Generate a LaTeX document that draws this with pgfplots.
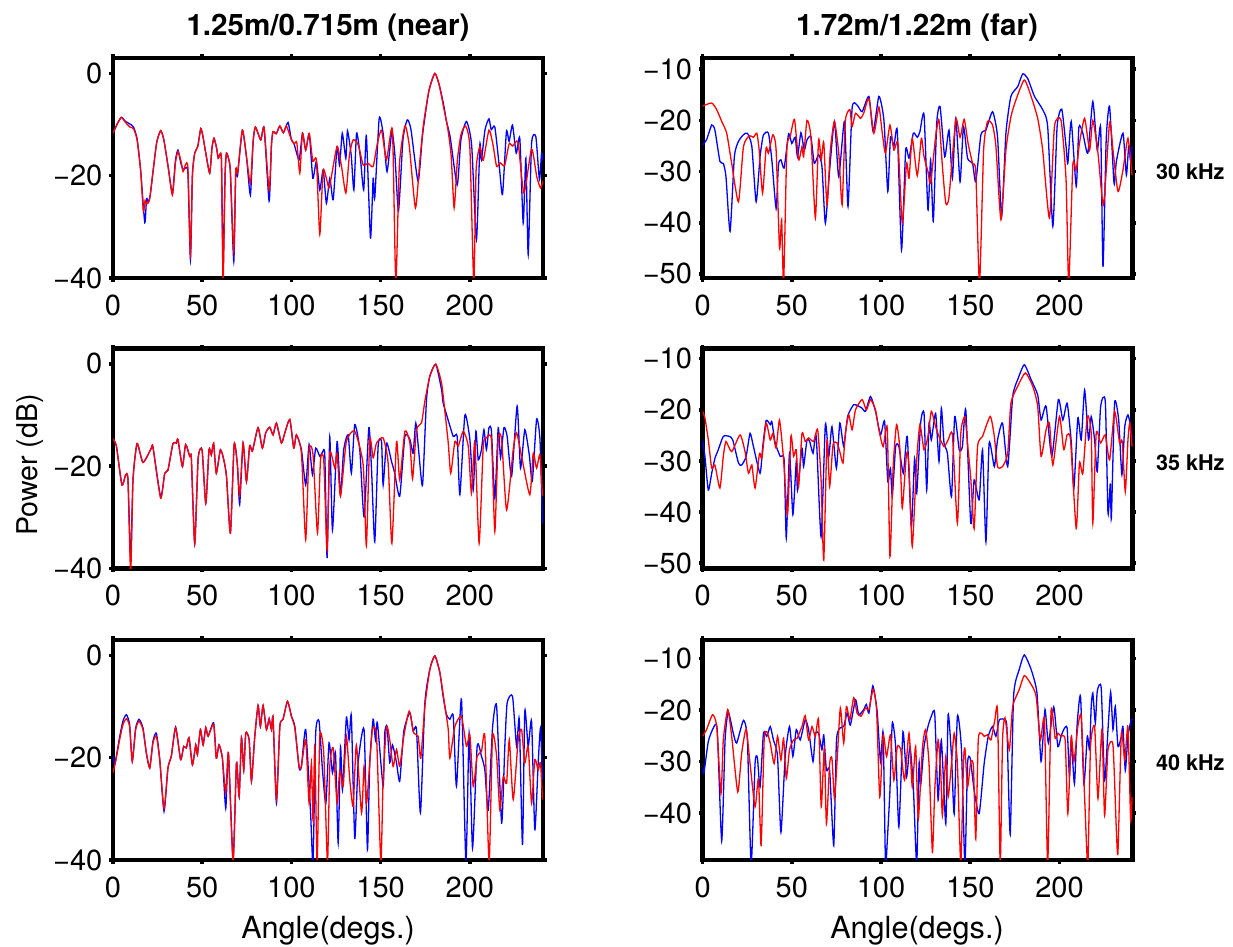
\documentclass[border=0pt]{standalone}
\usepackage{pgfplots}
\pgfplotsset{compat=1.18}
\usepackage{fontspec}
\setmainfont{TeX Gyre Heros}

\definecolor{bl}{RGB}{0,0,255}
\definecolor{rd}{RGB}{255,0,0}

\pgfplotsset{
  panel/.style={
    scale only axis, width=215pt, height=110pt,
    xmin=0, xmax=241, xtick={0,50,100,150,200},
    tick align=outside, major tick length=1.8pt,
    every tick/.style={black, line width=1.8pt},
    axis line style={line width=2.35pt},
    tick label style={font=\fontsize{14.5}{16}\selectfont},
    /pgf/number format/assume math mode=true,
    xticklabel style={yshift=-3pt},
    clip=true,
  },
  near/.style={panel, ymin=-40, ymax=3, ytick={-40,-20,0},
    yticklabels={−40,−20,0}},
  far/.style={panel, ytick={-50,-40,-30,-20,-10},
    yticklabels={−50,−40,−30,−20,−10}},
  bcurve/.style={bl, line width=0.65pt, smooth, tension=0.35},
  rcurve/.style={rd, line width=0.65pt, smooth, tension=0.35},
}

\begin{document}
\begin{tikzpicture}
\useasboundingbox (0,0) rectangle (616.5pt,473.5pt);

% ---------------- 30 kHz, near ----------------
\begin{axis}[near, at={(56.5pt,334.5pt)}, anchor=south west]
\addplot[bcurve] coordinates {
(0,-11.7)(2.5,-9.8)(4.7,-8.6)(7,-9.4)(9.5,-9.9)(11.5,-10.5)(13.5,-12.8)(15.5,-19)
(17.8,-29.2)(18.8,-24.5)(19.8,-25.2)(20.8,-24)(22.5,-19)(24.5,-13.5)(26.7,-11.2)
(28.5,-13)(31,-18.5)(33.3,-23.5)(35,-17)(36.4,-15)(38,-17.5)(39.3,-18.8)(40.7,-18.5)
(42,-19.5)(43.4,-36.5)(44.5,-20)(45.8,-15.6)(47.5,-14.3)(49.2,-10.8)(50.5,-12.5)
(52,-15.6)(54.2,-19.5)(55.5,-14.5)(56.6,-12.7)(58,-14.5)(59,-16.6)(60,-15.8)(60.8,-17.2)
(61.7,-38)(62.8,-20)(63.6,-15.6)(65,-17)(65.8,-19.5)(67.7,-36.8)(68.8,-19)(69.8,-20)
(72.5,-11.1)(74.8,-16.3)(77,-23.8)(78.5,-13.5)(79.8,-10.5)(82.8,-13)(84.7,-10.7)
(87.5,-25)(88.8,-14)(89.7,-11.4)(91.5,-11.8)(93.5,-10.3)(95.5,-11.6)(98.1,-9.6)
(100,-13)(101.5,-13.8)(104.3,-16.9)(106.2,-11.7)(108,-15)(110,-11.8)(112,-20.5)
(114,-17.2)(115.9,-22.8)(117.8,-18.9)(119.6,-25.4)(121.5,-20.5)(123.4,-24.7)
(125.6,-14.3)(127,-18)(128.5,-11.7)(130.5,-16.6)(131.4,-11.2)(133.5,-16)(135,-22.8)
(136.5,-11.7)(138.5,-16)(140.5,-22.8)(142,-12.2)(144.3,-32.2)(145.8,-20.5)(146.7,-24.4)
(149.2,-8.8)(151.5,-12)(153.6,-19.2)(156.3,-11.4)(158,-16)(160,-26.9)(162.5,-13)
(164.9,-9.1)(167,-11)(171,-21.1)(173.5,-12)(177,-3.5)(180.4,0)(183,-2.5)(185.5,-6.5)
(186.9,-9.4)(189,-12.5)(192.9,-21.8)(195,-13)(198.1,-9.4)(201,-14)(203.7,-32.5)
(205.6,-14)(206.5,-16.9)(208.5,-11)(210.7,-8.9)(212,-11)(214,-10.5)(216.5,-18.2)
(218.3,-23.7)(220.5,-11.4)(222,-13.3)(223.9,-10.1)(226,-15.6)(228,-12.7)(229.9,-29.3)
(231.4,-16.6)(232.7,-35.4)(234.6,-13.7)(237,-12.4)(239,-20.8)(240.2,-15.6)(241,-17)
};
\addplot[rcurve] coordinates {
(0,-11.7)(2.5,-9.8)(4.7,-8.6)(7,-9.6)(9.5,-10.5)(11.5,-10.8)(13.5,-13)(15.5,-19)
(17,-27)(18,-24.8)(19,-25.5)(20.5,-24.6)(22.5,-19)(24.5,-13.5)(26.7,-11.2)(28.5,-13)
(31,-18.5)(33.3,-23.8)(35,-17.5)(36.4,-15.3)(38,-17)(39.3,-19.2)(40.7,-17.8)(42,-18.5)
(43.4,-35.5)(44.5,-20)(45.8,-15.6)(47.5,-14.3)(49.2,-10.8)(50.5,-12.5)(52,-15.6)
(54.2,-19.5)(55.5,-14.5)(56.6,-12.7)(58,-14.5)(59,-16.6)(60,-15.8)(60.8,-17.2)
(61.7,-41)(62.8,-20)(63.6,-15.6)(65,-17)(65.8,-19.2)(67.7,-35)(68.8,-19)(69.8,-19.5)
(72.5,-11.1)(74.8,-16.3)(77,-21.5)(78.5,-13.5)(79.8,-10.5)(82.8,-13)(84.7,-10.7)
(87.5,-22.8)(88.8,-14)(89.7,-11.4)(91.5,-11.8)(93.5,-10.3)(95.5,-11.6)(97.2,-10.3)
(99.5,-12.5)(101.5,-13.8)(103,-13.5)(104.7,-19.5)(106.2,-11.7)(108,-15)(110,-11.8)
(112,-17.2)(114,-17)(115.9,-31.5)(117.8,-18.9)(121,-22.4)(122.5,-20)(125.6,-14.3)
(128,-18)(130.5,-23.4)(132.5,-16)(134.6,-13)(137.5,-14)(140.2,-17.9)(143,-17.6)
(145.8,-18.2)(148,-14)(150.5,-11.1)(153.3,-16.9)(156.6,-11.1)(158.5,-41)(160.5,-18)
(163.6,-10.3)(166,-14)(169.5,-26.3)(172,-17)(174,-10)(177,-3.5)(180.4,0)(183,-2.5)
(185.5,-7)(187.5,-10.5)(189.5,-16)(191.2,-26.3)(193,-17)(195,-12)(197.6,-10.3)
(200,-14.5)(202.2,-41)(203.5,-19)(205.6,-14.3)(207.5,-17)(210.7,-11.1)(213,-14)
(215,-18.2)(217,-17.5)(219.5,-18)(222,-13.8)(224,-14.2)(227,-13.5)(230.3,-23.4)
(234.6,-14.8)(237.5,-20.2)(239.6,-22.4)(241,-21)
};
\end{axis}

% ---------------- 30 kHz, far ----------------
\begin{axis}[far, ymin=-50.8, ymax=-7.8, at={(351.3pt,334.5pt)}, anchor=south west]
\addplot[bcurve] coordinates {
(0,-24.8)(2.2,-23.8)(5.1,-20.9)(6.9,-21.9)(9.7,-28)(11.6,-28.4)(13.1,-31)(15.4,-41.7)
(17.8,-27.1)(20.1,-24.1)(22.9,-22.8)(25.1,-22.5)(27.6,-25.1)(30,-35.9)(32.2,-27.1)
(34.1,-22.8)(36.9,-22.5)(38.8,-27.7)(41.2,-37.2)(42.5,-28.7)(43.9,-27.7)(45.7,-29.3)
(48.2,-22.6)(50,-24.5)(51.9,-23.3)(53.2,-27.1)(55.1,-22.4)(57,-25.8)(58.5,-23.8)
(60.7,-23.2)(62.6,-28.4)(65,-26.7)(66.9,-29)(68.8,-40.1)(71.2,-29.7)(73.9,-20.2)
(76.3,-31)(79.5,-20.2)(81.5,-36.8)(83.8,-17.6)(86.6,-17)(89.4,-18.3)(93.2,-15.3)
(95.6,-22.2)(98.8,-15.3)(101.6,-19.9)(103.8,-33.9)(105.3,-23.2)(107.2,-25.1)
(109.1,-22)(111.5,-45.3)(113.8,-25.8)(115.7,-27.4)(118.1,-22.5)(120.3,-23.3)
(121.8,-22.2)(124.1,-18.9)(126.3,-37.5)(127.8,-27.7)(129.3,-39.8)(131.2,-20.6)
(133.1,-17.3)(135.7,-27.1)(138.1,-21.9)(140,-31.3)(141.9,-19.6)(144.3,-32)(146.2,-21.2)
(148.5,-27.4)(151.3,-28.4)(153.1,-32)(156,-22.8)(158.8,-21.9)(162.5,-18.3)(165.3,-23.2)
(167.6,-38.8)(170,-22.5)(172.8,-15.3)(176.6,-13.4)(179.4,-10.9)(182.2,-11.8)(186,-15.3)
(190.6,-17.9)(193.4,-21.2)(196.3,-40.7)(198.7,-21.2)(201.3,-17.8)(203.7,-25.1)
(204.7,-28.4)(206.6,-20.2)(209.4,-32.9)(210.9,-21.3)(213.1,-22.5)(215.9,-26.4)
(218.7,-16.3)(221.2,-25.8)(223.1,-21.5)(224.4,-48.6)(226.2,-23.8)(228.1,-17.3)
(230.6,-32.3)(231.9,-28)(235.6,-22.5)(237.5,-30.7)(238.8,-25.1)(239.9,-28)(240.7,-25.1)
};
\addplot[rcurve] coordinates {
(0,-17.2)(5.1,-16.6)(7.9,-17.9)(10.7,-20.2)(13.5,-22.5)(16.3,-28.4)(20.1,-35.9)
(22.9,-25.1)(26.2,-23)(28.5,-23.3)(30.4,-22.5)(31.7,-25.8)(33.6,-34.2)(35.6,-25.4)
(36.9,-26.4)(39.4,-22.8)(41.2,-25.8)(43.1,-45)(44.3,-39.4)(45.4,-52)(47.2,-25.8)
(49.1,-23.2)(51.5,-19.8)(53.8,-27.7)(55.7,-25.1)(56.6,-27.1)(58.5,-20)(60.7,-23.2)
(63.2,-39.1)(65,-23.8)(66.5,-27.7)(67.9,-24.3)(69.7,-36.5)(71.6,-25.8)(73.9,-20.2)
(76.3,-26.4)(78.2,-36.5)(80,-20.2)(82.5,-17.9)(83.8,-21.2)(85.7,-18.6)(88.5,-19.6)
(90.3,-18.6)(93.2,-15.7)(96,-22.5)(98.8,-17.4)(100.7,-22.5)(102.5,-26.4)(105,-20.9)
(107.2,-25.8)(109.5,-24.5)(111.9,-40.1)(114.3,-28.4)(115.7,-31.3)(117.5,-23.5)
(120.3,-30.8)(122.6,-23.5)(124.1,-27.1)(126.3,-30)(127.8,-32.3)(130.6,-23.2)
(132.5,-19.9)(134.4,-29)(136.3,-36.2)(138.1,-34.9)(141.9,-19.9)(144.3,-23.3)
(146.6,-19.8)(148.8,-24.5)(151.3,-28.4)(153.1,-30)(155.2,-52)(157.5,-25.8)
(159.7,-20.2)(162.5,-20.9)(164.4,-25.1)(167.2,-39.4)(170,-25.8)(172.8,-19.3)
(175.6,-16)(180.3,-12.1)(184.1,-15.3)(187.8,-19.6)(190.6,-25.8)(194.4,-39.1)
(197.2,-21.2)(200.9,-20)(203.7,-31.6)(205.2,-52)(207.5,-28.7)(209.4,-29.7)
(211.2,-24.5)(214.1,-19.6)(216.9,-25.8)(218.7,-20)(221.6,-26.4)(224.7,-36.5)
(228.1,-20.4)(230,-25.8)(232.8,-33.9)(235.6,-29.7)(238.4,-23.5)(240.7,-30.7)
};
\end{axis}

% ---------------- 35 kHz, near ----------------
\begin{axis}[near, at={(56.5pt,189.3pt)}, anchor=south west]
\addplot[bcurve] coordinates {
(0,-14.7)(1.9,-16.1)(5,-23.7)(7.1,-21.7)(8.4,-22.7)(9.9,-38.4)(11.2,-22.7)(13.5,-15.6)
(16.8,-19.3)(21.5,-16.5)(22.4,-16.3)(26.7,-26)(29,-21.4)(30.8,-20.8)(33.6,-15.6)
(35.5,-15.5)(36.4,-14.8)(38.9,-20.1)(40.7,-15.8)(43,-18.1)(43.9,-18.4)(45.8,-35.2)
(47.7,-18.6)(49.9,-16.8)(52,-27.3)(53.8,-16.8)(55.1,-17.8)(56.4,-15.6)(57.9,-21.4)
(60.2,-16.8)(62.1,-18.8)(63.6,-22)(65.8,-33.1)(67.9,-15.8)(69.7,-19.7)(71,-27.5)
(72.9,-15.5)(74.8,-23)(76.6,-16)(78.1,-17.1)(81.3,-12.5)(83.7,-16.5)(85.6,-13.5)
(87.9,-12.4)(89.7,-13.9)(91.6,-11.6)(94.4,-15.5)(96.3,-13.5)(99.1,-10.9)(101.3,-16.5)
(102.8,-13.9)(105.6,-16.8)(108,-23.7)(109.9,-15.8)(111.8,-21.7)(113.6,-16.5)
(115.9,-18.1)(117.4,-17.3)(118.7,-17.8)(120,-38)(121.5,-14.3)(123,-32.5)(125.6,-15.2)
(127.5,-25.6)(129.3,-16.8)(131.8,-13.9)(133.6,-21.4)(135.5,-11.9)(138.3,-16.8)
(140.7,-29.9)(143.4,-12.5)(144.9,-20.7)(146.7,-34.8)(148.6,-16.1)(150.5,-15.2)
(151.4,-23.7)(153.3,-15.5)(156.1,-19.1)(157.9,-21.4)(160.7,-25.9)(163.6,-14.2)
(166.4,-14.8)(168.2,-17.5)(169.7,-11.6)(171.6,-18.1)(173.5,-23.7)(175.7,-7)
(177.6,-2.4)(180.9,-0.1)(184.1,-5)(185,-7.6)(186.9,-9.9)(190.7,-14.2)(192.9,-14.2)
(194.4,-25.6)(197.2,-10.1)(200,-14.8)(201.9,-24.6)(203.4,-13.2)(204.7,-18.8)
(206.5,-16.8)(207.9,-12.9)(209.3,-16.8)(210.7,-12.5)(212.1,-13.2)(214,-26.3)
(215.9,-12.5)(217.2,-18.4)(219.1,-12.5)(220.9,-14.2)(223.4,-22)(226.5,-8.3)
(228.4,-20.4)(230.8,-12.9)(233.3,-17.8)(235,-23)(237.4,-10.9)(239.3,-14.8)(240.7,-31.2)
};
\addplot[rcurve] coordinates {
(0,-14.7)(1.9,-16.1)(5,-23.7)(7.1,-21.7)(8.4,-22.7)(9.9,-41)(11.2,-22.7)(13.5,-15.6)
(16.8,-19.3)(21.5,-16.5)(22.4,-16.3)(26.7,-26.3)(29,-21.4)(30.8,-20.8)(33.6,-15.6)
(35.5,-15.5)(36.4,-14.8)(38.9,-20.1)(40.7,-15.8)(43,-18.1)(43.9,-18.4)(45.8,-35.2)
(47.7,-18.6)(49.9,-16.8)(52,-27.3)(53.8,-16.8)(55.1,-17.8)(56.4,-15.6)(57.9,-21.4)
(60.2,-16.8)(62.1,-18.8)(63.6,-22)(65.8,-33.1)(67.9,-15.8)(69.7,-19.7)(71,-25.9)
(72.9,-15.5)(74.8,-23)(76.6,-16)(78.1,-17.1)(81.3,-12.5)(83.7,-16.5)(85.6,-13.5)
(87.9,-12.4)(89.7,-13.9)(91.6,-11.6)(94.4,-15.5)(96.3,-13.5)(99.1,-10.9)(101.3,-16.5)
(102.8,-13.9)(105.6,-17.5)(108,-34.4)(109.9,-16.8)(112.1,-17.8)(114.6,-33.1)
(116.3,-18.8)(118.1,-18.8)(120,-36.4)(121.5,-17.5)(124.3,-20.4)(125.6,-17.5)
(127.5,-25.9)(130.8,-15.2)(135.5,-13.2)(140.2,-19.7)(142,-35.6)(143.9,-14.8)
(145.8,-18.4)(147.7,-15.5)(151.4,-14.5)(154.2,-19.4)(156.3,-35.1)(158.9,-15.2)
(160.7,-22.7)(163.6,-13.2)(166.4,-15.5)(167.9,-22.5)(170.1,-12.9)(172.9,-11.6)
(174.8,-7.3)(177.6,-2.4)(180.9,-0.1)(184.1,-3.7)(186,-9.3)(187.9,-15.5)(189.3,-21.4)
(191.6,-15.2)(193.5,-16.1)(196.3,-13.2)(199.1,-16.1)(200.9,-25.3)(202.8,-15.2)
(205.2,-35.1)(207.5,-16.1)(209.3,-14.5)(212.1,-14.8)(214,-32.8)(215.9,-14.8)
(217.8,-14.8)(220.6,-28.6)(224.3,-16.8)(226.2,-13.5)(229,-18.1)(233.6,-25.6)
(235.5,-17.5)(237.4,-20.4)(239.3,-17.8)(240.7,-25.9)
};
\end{axis}

% ---------------- 35 kHz, far ----------------
\begin{axis}[far, ymin=-51, ymax=-8, at={(351.3pt,189.3pt)}, anchor=south west]
\addplot[bcurve] coordinates {
(0,-25.9)(1.3,-29.1)(3.2,-35.7)(5.1,-32.4)(6.9,-29.5)(8.8,-27.8)(11.6,-25.2)(15,-25.2)
(16.9,-25.9)(20.1,-30.4)(21.9,-30.8)(24.4,-29.1)(26.6,-24.6)(28.5,-27.2)(32.2,-32.4)
(33.7,-27.2)(35.6,-22.1)(37.9,-22.9)(38.8,-22.3)(40.7,-26.5)(43.5,-29.1)(45.7,-29.8)
(46.9,-45.1)(48.7,-28.5)(50.6,-40.5)(52.5,-30.1)(53.2,-35.7)(55.7,-27.5)(56.6,-31.1)
(58.5,-25.9)(60,-26.2)(61.9,-28.5)(63.7,-25.2)(66.4,-44.8)(68.8,-22.9)(70.7,-29.1)
(72.5,-23.3)(75,-31.4)(76.9,-22.6)(79.1,-27.2)(81.3,-21.3)(84.7,-19)(87.5,-19.3)
(89.4,-19.7)(91.3,-20.3)(94.1,-17.4)(96.9,-20.3)(99.7,-24.9)(102,-22.3)(103.8,-34)
(105.3,-31.4)(106.3,-37)(108.2,-27.2)(110,-27.2)(112.5,-32.4)(114.7,-25.2)(117,-42.8)
(118.8,-29.5)(120,-36.3)(122.2,-22.6)(124.1,-20.7)(125.6,-35.7)(126.9,-22.6)
(128.2,-25.9)(130.6,-20.7)(132.5,-30.1)(133.8,-19.7)(135.3,-26.5)(137.2,-28.5)
(139.5,-37)(141.3,-21.3)(143.8,-27.8)(145.6,-27.2)(147.5,-20)(150.3,-42.2)
(152.2,-33.7)(155,-37.6)(156.9,-27.8)(158.8,-45.8)(160.6,-26.5)(163.5,-31.1)
(165.3,-25.9)(168.1,-22.6)(171,-31.1)(173.8,-17.4)(176.6,-14.1)(180.3,-11.2)
(184.1,-14.1)(187.8,-17.1)(189.7,-22)(192.5,-19.3)(195.7,-29.1)(199.4,-18)(201.9,-22)
(204.3,-18.7)(206.6,-26.2)(208.1,-35.3)(210.3,-21.6)(212.2,-25.9)(214.1,-16.1)
(216.3,-25.9)(217.8,-21.3)(219.7,-25.9)(221.2,-32.1)(223.1,-19.3)(225.7,-18.4)
(227.2,-40.2)(228.5,-34.4)(229.1,-41.2)(230.9,-18.7)(233.2,-22)(235,-32.7)
(236.6,-23.3)(238.4,-21)(239.9,-23.3)(240.7,-26.2)
};
\addplot[rcurve] coordinates {
(0,-20.3)(1.3,-21.6)(3.2,-25.9)(5.1,-31.4)(6.9,-30.8)(9.7,-35.3)(11.6,-29.1)(13.1,-26.2)
(16.3,-28.2)(21,-24.9)(23.8,-28.2)(25.7,-32.4)(27.6,-30.8)(29.4,-35.3)(31.9,-28.5)
(33.2,-29.5)(35.6,-22.6)(37.9,-25.9)(39.4,-24.6)(41.2,-27.5)(43.1,-22)(45.4,-29.8)
(47.6,-40.5)(49.5,-25.2)(51,-29.1)(52.5,-27.8)(53.8,-35)(55.7,-24.6)(57.5,-26.2)
(59.4,-25.5)(62.2,-26.2)(64.5,-23.9)(66.4,-33.7)(67.9,-49.4)(69.7,-25.9)(71.2,-35)
(73.1,-26.8)(75.4,-26.5)(76.9,-28.2)(78.7,-30.4)(80,-24.6)(81.9,-21)(83.8,-23.9)
(85.7,-20)(89.4,-18)(91.8,-20)(94.1,-18)(96.9,-20)(98.8,-23.9)(101.2,-27.2)
(103.5,-23.6)(105,-48.7)(106.8,-31.1)(108.7,-22.9)(110.6,-27.8)(111.9,-39.2)
(114.3,-28.5)(115.7,-31.1)(117.5,-46.7)(120,-29.8)(121.8,-22.9)(124.1,-27.8)
(126.3,-25.2)(128.2,-20.3)(130.6,-23.3)(132.5,-25.2)(135.3,-27.2)(137.6,-25.9)
(140,-24.9)(142.8,-42.2)(144.7,-24.6)(147,-21.4)(148.8,-27.8)(150.3,-33.4)
(152.2,-43.2)(154.1,-27.2)(156.9,-25.2)(161.2,-21.3)(163.5,-25.2)(165.3,-31.1)
(168.1,-31.1)(171,-28.5)(172.8,-18.7)(176.6,-15.4)(180.9,-12.8)(185,-15.4)
(187.8,-19.3)(189.7,-29.1)(192.5,-23.9)(194.4,-22.6)(196.3,-30.8)(200,-21.3)
(202.4,-27.8)(204.3,-24.9)(206.2,-25.9)(209.4,-43.2)(211.2,-30.4)(213.1,-32.4)
(215.6,-21.3)(217.8,-24.6)(218.7,-42.2)(220.6,-24.6)(223.1,-26.5)(225.7,-24.9)
(228.1,-29.8)(230.9,-20.3)(233.7,-26.5)(235.2,-26.2)(236.9,-36)(238.4,-25.9)
(239.4,-22.6)(240.7,-27.2)
};
\end{axis}

% ---------------- 40 kHz, near ----------------
\begin{axis}[near, at={(56.5pt,43.5pt)}, anchor=south west]
\addplot[bcurve] coordinates {
(0,-19.7)(0.9,-21.4)(1.5,-20.5)(3.7,-16)(5.6,-12.8)(7.5,-11.6)(9.3,-13.5)(10.8,-20.7)
(12.7,-14.2)(14.6,-12.5)(16.8,-14.2)(18.7,-19.1)(20.6,-22)(22.4,-16.8)(24.3,-15.2)
(26.2,-20.4)(28.6,-30.5)(30.8,-22)(32.7,-19.7)(35.1,-14)(37.9,-20.4)(39.6,-17.8)
(41.1,-18.1)(42.6,-16.1)(44.5,-21.4)(46.4,-17.5)(47.3,-19.4)(49,-14.5)(50.5,-17.5)
(52,-14.1)(53.3,-15.8)(56.4,-13.2)(57.9,-20.1)(59.4,-17.5)(61.3,-20.1)(63.2,-29.9)
(64.7,-19.1)(67.3,-40)(69.2,-21)(70.7,-27.6)(72,-16.1)(73.3,-22.4)(74.4,-15.2)
(76.3,-16.5)(77.6,-24.6)(79.4,-16.1)(81.3,-9.8)(82.6,-13.9)(84.1,-9.8)(86,-14.5)
(87.5,-12.4)(88.8,-14.5)(89.7,-12.2)(91.6,-28.9)(93.5,-13.9)(95.3,-12.5)(97.8,-9)
(100,-11.9)(101.9,-13.9)(104.3,-22)(105.6,-21.7)(108,-14.5)(110.7,-30.5)(112.1,-40.6)
(113.6,-15.2)(115.5,-12.9)(117.4,-22.4)(119.3,-28.9)(121.1,-17.1)(123,-23)(124.7,-19.1)
(126.2,-36.7)(127.5,-17.8)(128.6,-26.3)(130.8,-12.2)(132.3,-16.5)(133.6,-11.9)
(135.5,-35.8)(137.4,-21)(140.7,-14.5)(142.6,-38)(143.9,-21)(145.8,-12.5)(147.1,-16.5)
(148.2,-13.2)(151.4,-25.6)(152.3,-15.2)(153.6,-13.9)(155.1,-21)(156.6,-17.5)
(158.9,-21)(160.7,-24.6)(163,-14.8)(166.4,-11.2)(168.2,-14.8)(170.1,-14.5)(172.3,-30.8)
(174.8,-9.3)(177.6,-2.7)(180.4,-0.1)(183.2,-3.4)(185,-8)(186.9,-11.6)(188.8,-12.5)
(190.7,-11.9)(192.5,-25.6)(195.3,-8.6)(197.8,-40.5)(199.6,-15.2)(201.5,-37.7)
(204.1,-17.8)(206.5,-19.7)(208.4,-22.4)(210.3,-30.2)(212.7,-14.2)(215,-9.9)
(217.8,-32.8)(219.6,-17.8)(220.9,-9.3)(223.9,-8)(226.2,-17.8)(227.7,-12.5)
(229.5,-37.1)(230.8,-10.9)(232.7,-17.8)(234.6,-12.9)(236.4,-34.1)(238.3,-21)
(239.6,-14.2)(240.7,-24.3)
};
\addplot[rcurve] coordinates {
(0,-23)(1.5,-20.7)(3.7,-16.5)(5.6,-13.5)(7.5,-12.4)(9.3,-13.9)(10.8,-20.7)(12.7,-14.5)
(14.6,-12.9)(16.8,-14.5)(18.7,-19.1)(20.6,-22)(22.4,-17.1)(24.3,-15.8)(26.2,-20.4)
(28.6,-29.9)(30.8,-22)(32.7,-19.7)(35.1,-14.2)(37.9,-20.4)(39.6,-17.8)(41.1,-18.1)
(42.6,-16.1)(44.5,-21.4)(46.4,-17.5)(47.3,-19.4)(49,-14.5)(50.5,-17.5)(52,-14.1)
(53.3,-15.8)(56.4,-13.5)(57.9,-20.1)(59.4,-17.5)(61.3,-20.1)(63.2,-26.9)(64.7,-19.1)
(67.3,-40.5)(69.2,-21)(70.7,-27.6)(72,-16.1)(73.3,-22.4)(74.4,-15.2)(76.3,-16.5)
(77.6,-24.6)(79.4,-16.1)(81.3,-9.8)(82.6,-13.9)(84.1,-9.8)(86,-14.5)(87.5,-12.4)
(88.8,-14.5)(89.7,-12.2)(91.6,-28.2)(93.5,-13.9)(95.3,-12.5)(97.8,-9)(100,-11.9)
(101.9,-14.2)(104.3,-21.7)(105.6,-21.7)(108,-16.5)(109.9,-28.9)(111.2,-21)(112.1,-32.2)
(113.1,-17.5)(114.4,-40.5)(115.9,-15.8)(118.1,-19.1)(120.2,-40.5)(121.5,-21.7)
(123.4,-18.1)(125.6,-28.9)(127.1,-22.4)(129,-25.6)(130.8,-15.8)(132.7,-24.3)
(134.6,-29.5)(136.4,-17.5)(139.3,-30.8)(140.7,-21.7)(142.1,-28.9)(143.9,-21)
(145.4,-14.5)(147.7,-15.8)(150.1,-40.5)(151.4,-24.3)(153.3,-13.9)(155.1,-16.5)
(157,-21.7)(158.9,-18.4)(160.7,-21.7)(163,-15.8)(166,-10.9)(168.6,-15.2)(171,-15.8)
(172.5,-20.1)(174.8,-9.9)(177.6,-2.7)(180.4,-0.1)(183.2,-3.4)(186,-9.9)(187.9,-14.5)
(188.8,-20.1)(191.6,-13.9)(195.3,-11.9)(198.1,-17.8)(200,-15.5)(201.9,-25.6)
(204.1,-19.7)(206.5,-18.8)(208.4,-15.8)(210.8,-40.5)(212.7,-15.8)(215,-19.7)
(216.8,-30.2)(218.7,-23.7)(220.6,-25)(222.1,-16.5)(224.3,-28.2)(227.1,-16.5)
(229,-14.5)(230.8,-21)(232.7,-17.8)(234.6,-28.9)(236.4,-20.4)(238.3,-22.4)
(239.6,-21)(240.7,-28.2)
};
\end{axis}

% ---------------- 40 kHz, far ----------------
\begin{axis}[far, ymin=-49.1, ymax=-6.4, ytick={-40,-30,-20,-10},
  yticklabels={−40,−30,−20,−10}, at={(351.3pt,43.5pt)}, anchor=south west]
\addplot[bcurve] coordinates {
(0,-31)(0.7,-32.3)(3.2,-26.1)(6,-23.5)(8.2,-23.8)(10.7,-45.4)(12.6,-25.8)(14.4,-20.4)
(17.2,-24.5)(19.1,-26.4)(22.9,-22)(25.1,-25.8)(27.2,-50)(29.4,-30.4)(30.7,-29.2)
(32.2,-34.9)(34.1,-24.5)(36,-25.1)(37.9,-23.2)(39.7,-25.8)(42,-29)(43.9,-43.7)
(46.3,-29)(48.7,-23.2)(50.6,-29)(52.5,-23.8)(54.7,-25.8)(57.5,-21.9)(59.4,-23.8)
(61.9,-30)(63.2,-24.5)(65,-24.5)(66.9,-27.7)(67.9,-24.8)(69.4,-31.7)(71.2,-31.7)
(73.5,-46.3)(75,-26.1)(76.9,-23.5)(79.1,-23.2)(81,-20.6)(82.8,-22.9)(85.7,-18)
(87.5,-20.9)(90.3,-19.9)(91.8,-18.9)(93.2,-20.6)(95.4,-15.3)(97.8,-20.2)(99.7,-30)
(101.2,-24.5)(102.5,-50)(103.5,-45.4)(105,-35.6)(106.3,-22.5)(108.2,-27.1)(110,-42.7)
(112.3,-24.2)(114.3,-33)(116.2,-27.1)(118.1,-34.9)(120,-50)(121.3,-30.4)(122.2,-34.6)
(124.1,-27.1)(126.3,-23.2)(128.2,-21.2)(130.1,-20.7)(132,-37.5)(133.8,-25.8)
(136.3,-42.1)(137.6,-20.9)(139.5,-29)(141,-40.1)(142.8,-21.2)(145.1,-27.7)(147,-50)
(148.5,-30.4)(150,-29.4)(152.2,-35.6)(155,-40.1)(157.8,-30.4)(160.1,-25.1)(162.5,-23.2)
(164.4,-25.1)(166.3,-21.9)(169.5,-21.9)(170.6,-23.8)(172.4,-44.1)(174.3,-17.3)
(177.5,-12.1)(180.3,-9.3)(184.1,-12.1)(187.4,-16.7)(189.7,-30)(191.9,-19.9)
(193.8,-26.4)(196.8,-19.4)(199.1,-27.1)(200.9,-25.1)(202.4,-23.8)(204.3,-23.5)
(205.6,-33)(206.6,-25.8)(208.4,-34.3)(209.9,-22.9)(211.8,-17.3)(213.7,-34.3)
(215.6,-25.1)(216.9,-27.7)(217.8,-19.3)(218.7,-16.7)(220.1,-22.5)(221.2,-16.3)
(223.4,-15.7)(225.3,-33.6)(227.2,-23.8)(228.7,-16.5)(230,-23.8)(231.3,-19.3)
(232.8,-27.1)(234.7,-25.1)(235.6,-23.2)(236.9,-31.7)(238.4,-25.1)(240.2,-21.9)(241,-22)
};
\addplot[rcurve] coordinates {
(0,-25.1)(2.2,-23.8)(5.6,-20.9)(7.9,-23.2)(10.3,-36.2)(11.6,-25.8)(14.1,-19.9)
(16.3,-25.1)(19.7,-35.9)(21.9,-28.4)(24.4,-23.7)(26.6,-30.4)(29.4,-38.8)(31.3,-33.3)
(32.8,-46.3)(34.5,-25.8)(36,-24.2)(37.9,-26.4)(40.1,-30.4)(42,-25.1)(43.9,-29.7)
(45.4,-25.5)(46.9,-33.3)(48.7,-27.7)(51,-25.8)(52.9,-25.5)(55.7,-23.2)(57.5,-21.1)
(59.4,-25.8)(61.3,-23.2)(63.2,-25.1)(65,-21.9)(66.5,-38.8)(68.2,-27.4)(69.4,-42.1)
(71.2,-30.4)(72.5,-29.4)(73.9,-37.2)(75.4,-29.7)(77.2,-19.6)(79.1,-26.4)(80.6,-19.3)
(82.5,-21.9)(84.7,-17.6)(86.6,-20.6)(88.8,-21.2)(91.3,-19.6)(93.2,-19.9)(95.6,-16)
(97.5,-19.9)(99.3,-36.9)(101.2,-24.8)(103.1,-29)(105.3,-24.8)(107.2,-33.6)(109.1,-27.1)
(111,-27.7)(113.2,-33.6)(115.7,-24.5)(117.5,-34.9)(119.4,-27.1)(120.9,-41.1)
(123.2,-27.4)(125,-23.8)(126.9,-30.4)(128.8,-47.6)(130.1,-35.6)(132,-25.8)(133.5,-32.3)
(134.4,-40.5)(136.3,-29)(137.6,-36.9)(139.5,-30.4)(141,-24.5)(142.8,-30.4)(144.7,-50)
(146.2,-30.4)(147,-27.4)(148.5,-34.9)(150.3,-30)(151.8,-31)(153.1,-45)(154.5,-25.8)
(156.3,-24.5)(157.8,-25.1)(159.7,-24.8)(161.6,-25.8)(163.8,-21.9)(165.3,-20.2)
(166.8,-50)(168.1,-25.8)(169.5,-21.5)(171.9,-27.7)(173.8,-19.3)(177.5,-16)(180.3,-13.3)
(184.1,-15)(186.9,-17.3)(189.3,-25.8)(191.6,-21.9)(193.4,-50)(195.3,-20.2)(197.6,-25.5)
(199.1,-24.5)(200.9,-25.1)(203.2,-25.8)(204.7,-40.1)(206.6,-25.1)(208.1,-30)
(210.3,-23.2)(212.2,-21.2)(214.1,-36.9)(215.9,-50)(217.4,-27.1)(219.7,-23.2)
(221.6,-37.2)(223.8,-23.8)(225.3,-40.5)(227.2,-27.7)(230,-26.8)(231.9,-43.4)
(232.8,-47.6)(234.7,-24.5)(236.6,-29.7)(238.4,-23.2)(239.9,-41.4)(240.7,-36.9)
};
\end{axis}

% ---------------- titles and labels ----------------
\node[anchor=base, font=\bfseries\fontsize{14.8}{17}\selectfont] at (164pt,455.6pt) {1.25m/0.715m (near)};
\node[anchor=base, font=\bfseries\fontsize{14.8}{17}\selectfont] at (458.5pt,455.6pt) {1.72m/1.22m (far)};
\node[anchor=west, font=\bfseries\fontsize{10.8}{12}\selectfont] at (574.5pt,387.5pt) {30 kHz};
\node[anchor=west, font=\bfseries\fontsize{10.8}{12}\selectfont] at (574.5pt,242pt) {35 kHz};
\node[anchor=west, font=\bfseries\fontsize{10.8}{12}\selectfont] at (574.5pt,92pt) {40 kHz};
\node[rotate=90, font=\fontsize{14.3}{16}\selectfont] at (15pt,241pt) {Power (dB)};
\node[anchor=base, font=\fontsize{15.3}{17}\selectfont] at (164pt,4pt) {Angle(degs.)};
\node[anchor=base, font=\fontsize{15.3}{17}\selectfont] at (458.5pt,4pt) {Angle(degs.)};
\end{tikzpicture}
\end{document}
